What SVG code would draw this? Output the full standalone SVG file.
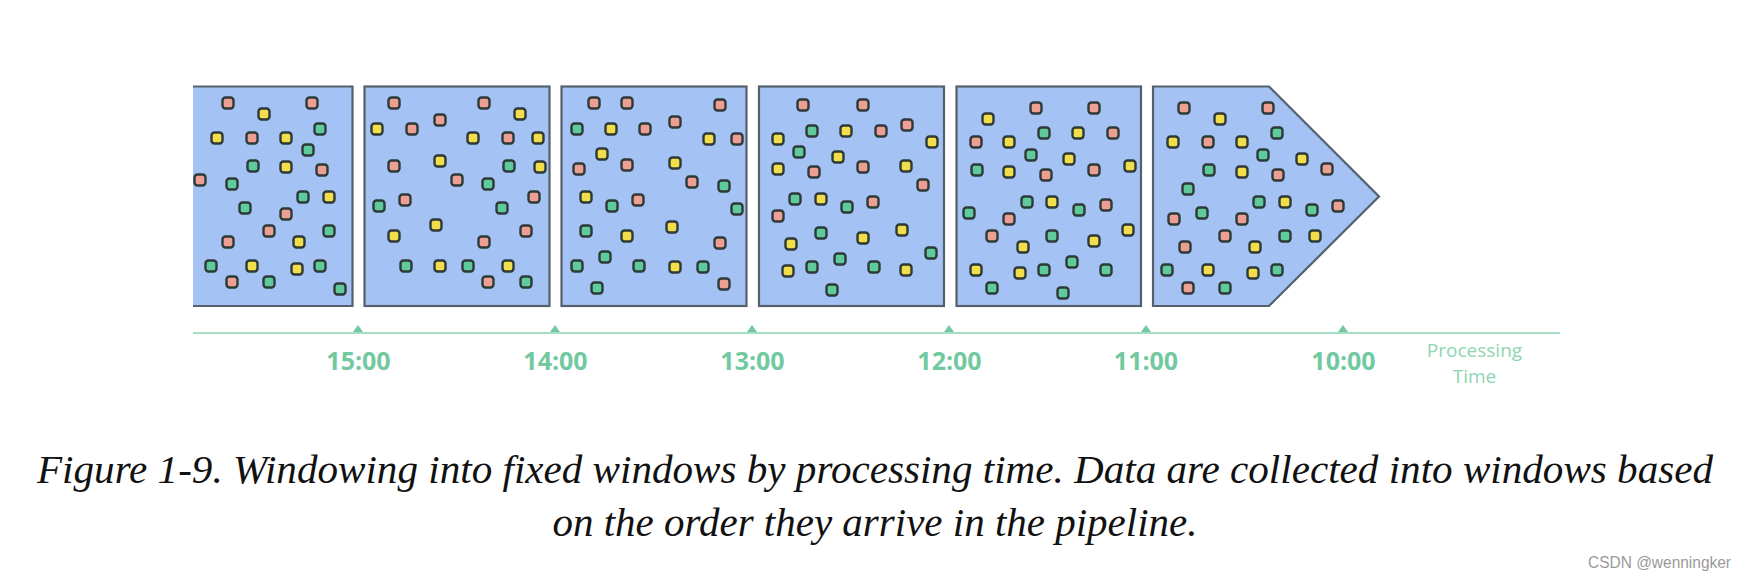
<svg xmlns="http://www.w3.org/2000/svg" xmlns:xlink="http://www.w3.org/1999/xlink" width="1744" height="579" viewBox="0 0 1744 579">
<style>
.win{fill:#a4c2f4;stroke:#56606c;stroke-width:2.2;stroke-linejoin:miter}
.d{stroke:#2e3a38;stroke-width:2.4}
.r{fill:#ee9f94}
.y{fill:#f2de4b}
.g{fill:#5fca9c}
.tick{fill:#72c99f}
.axis{stroke:#a6dfc4;stroke-width:2;fill:none}
.lbl{font-family:"Open Sans",sans-serif;font-weight:bold;font-size:25px;fill:#72c99f;text-anchor:middle}
.pt{font-family:"Open Sans",sans-serif;font-size:19px;fill:#8ed5b3;text-anchor:middle}
.cap{font-family:"Liberation Serif",serif;font-style:italic;font-size:40px;fill:#111;text-anchor:middle}
.wm{font-family:"Liberation Sans",sans-serif;font-size:16px;fill:#9a9a9a}
</style>
<defs>
<rect id="dot" x="-5.5" y="-5.5" width="11" height="11" rx="3"/>
</defs>
<rect width="1744" height="579" fill="#ffffff"/>

<g id="window1">
<path d="M193,86.5 H352.5 V306 H193 Z" fill="#a4c2f4"/>
<path d="M193,86.5 H352.5 V306 H193" fill="none" stroke="#56606c" stroke-width="2.2"/>
<g class="d">
<use xlink:href="#dot" x="228" y="103" class="r"/><use xlink:href="#dot" x="312" y="103" class="r"/><use xlink:href="#dot" x="264" y="114" class="y"/><use xlink:href="#dot" x="320" y="129" class="g"/><use xlink:href="#dot" x="217" y="138" class="y"/><use xlink:href="#dot" x="252" y="138" class="r"/><use xlink:href="#dot" x="286" y="138" class="y"/><use xlink:href="#dot" x="308" y="150" class="g"/><use xlink:href="#dot" x="253" y="166" class="g"/><use xlink:href="#dot" x="286" y="167" class="y"/><use xlink:href="#dot" x="322" y="170" class="r"/><use xlink:href="#dot" x="200" y="180" class="r"/><use xlink:href="#dot" x="232" y="184" class="g"/><use xlink:href="#dot" x="303" y="197" class="g"/><use xlink:href="#dot" x="329" y="197" class="y"/><use xlink:href="#dot" x="245" y="208" class="g"/><use xlink:href="#dot" x="286" y="214" class="r"/><use xlink:href="#dot" x="269" y="231" class="r"/><use xlink:href="#dot" x="329" y="231" class="g"/><use xlink:href="#dot" x="228" y="242" class="r"/><use xlink:href="#dot" x="299" y="242" class="y"/><use xlink:href="#dot" x="211" y="266" class="g"/><use xlink:href="#dot" x="252" y="266" class="y"/><use xlink:href="#dot" x="297" y="269" class="y"/><use xlink:href="#dot" x="320" y="266" class="g"/><use xlink:href="#dot" x="232" y="282" class="r"/><use xlink:href="#dot" x="269" y="282" class="g"/><use xlink:href="#dot" x="340" y="289" class="g"/>
</g>
</g>

<g id="window2">
<rect class="win" x="364.5" y="86.5" width="185" height="219.5"/>
<g class="d">
<use xlink:href="#dot" x="394" y="103" class="r"/><use xlink:href="#dot" x="484" y="103" class="r"/><use xlink:href="#dot" x="520" y="114" class="y"/><use xlink:href="#dot" x="440" y="120" class="r"/><use xlink:href="#dot" x="377" y="129" class="y"/><use xlink:href="#dot" x="412" y="129" class="r"/><use xlink:href="#dot" x="473" y="138" class="y"/><use xlink:href="#dot" x="508" y="138" class="r"/><use xlink:href="#dot" x="538" y="138" class="y"/><use xlink:href="#dot" x="394" y="166" class="r"/><use xlink:href="#dot" x="440" y="161" class="y"/><use xlink:href="#dot" x="509" y="166" class="g"/><use xlink:href="#dot" x="540" y="167" class="y"/><use xlink:href="#dot" x="457" y="180" class="r"/><use xlink:href="#dot" x="488" y="184" class="g"/><use xlink:href="#dot" x="405" y="200" class="r"/><use xlink:href="#dot" x="379" y="206" class="g"/><use xlink:href="#dot" x="534" y="197" class="r"/><use xlink:href="#dot" x="502" y="208" class="g"/><use xlink:href="#dot" x="436" y="225" class="y"/><use xlink:href="#dot" x="526" y="231" class="r"/><use xlink:href="#dot" x="394" y="236" class="y"/><use xlink:href="#dot" x="484" y="242" class="r"/><use xlink:href="#dot" x="406" y="266" class="g"/><use xlink:href="#dot" x="440" y="266" class="y"/><use xlink:href="#dot" x="468" y="266" class="g"/><use xlink:href="#dot" x="508" y="266" class="y"/><use xlink:href="#dot" x="488" y="282" class="r"/><use xlink:href="#dot" x="526" y="282" class="g"/>
</g>
</g>

<g id="window3">
<rect class="win" x="561.5" y="86.5" width="185" height="219.5"/>
<g class="d">
<use xlink:href="#dot" x="594" y="103" class="r"/><use xlink:href="#dot" x="627" y="103" class="r"/><use xlink:href="#dot" x="720" y="105" class="r"/><use xlink:href="#dot" x="577" y="129" class="g"/><use xlink:href="#dot" x="611" y="129" class="y"/><use xlink:href="#dot" x="645" y="129" class="r"/><use xlink:href="#dot" x="675" y="122" class="r"/><use xlink:href="#dot" x="709" y="139" class="y"/><use xlink:href="#dot" x="737" y="139" class="r"/><use xlink:href="#dot" x="602" y="154" class="y"/><use xlink:href="#dot" x="579" y="169" class="r"/><use xlink:href="#dot" x="627" y="165" class="r"/><use xlink:href="#dot" x="675" y="163" class="y"/><use xlink:href="#dot" x="692" y="182" class="r"/><use xlink:href="#dot" x="724" y="186" class="g"/><use xlink:href="#dot" x="586" y="197" class="y"/><use xlink:href="#dot" x="612" y="206" class="g"/><use xlink:href="#dot" x="638" y="200" class="r"/><use xlink:href="#dot" x="737" y="209" class="g"/><use xlink:href="#dot" x="586" y="231" class="g"/><use xlink:href="#dot" x="627" y="236" class="y"/><use xlink:href="#dot" x="672" y="227" class="y"/><use xlink:href="#dot" x="720" y="243" class="r"/><use xlink:href="#dot" x="605" y="257" class="g"/><use xlink:href="#dot" x="577" y="266" class="g"/><use xlink:href="#dot" x="639" y="266" class="g"/><use xlink:href="#dot" x="675" y="267" class="y"/><use xlink:href="#dot" x="703" y="267" class="g"/><use xlink:href="#dot" x="597" y="288" class="g"/><use xlink:href="#dot" x="724" y="284" class="r"/>
</g>
</g>

<g id="window4">
<rect class="win" x="759" y="86.5" width="185" height="219.5"/>
<g class="d">
<use xlink:href="#dot" x="803" y="105" class="r"/><use xlink:href="#dot" x="863" y="105" class="r"/><use xlink:href="#dot" x="812" y="131" class="g"/><use xlink:href="#dot" x="846" y="131" class="y"/><use xlink:href="#dot" x="881" y="131" class="r"/><use xlink:href="#dot" x="907" y="125" class="r"/><use xlink:href="#dot" x="778" y="139" class="y"/><use xlink:href="#dot" x="932" y="142" class="y"/><use xlink:href="#dot" x="799" y="152" class="g"/><use xlink:href="#dot" x="838" y="157" class="y"/><use xlink:href="#dot" x="778" y="169" class="y"/><use xlink:href="#dot" x="814" y="172" class="r"/><use xlink:href="#dot" x="863" y="167" class="r"/><use xlink:href="#dot" x="906" y="166" class="y"/><use xlink:href="#dot" x="923" y="185" class="r"/><use xlink:href="#dot" x="795" y="199" class="g"/><use xlink:href="#dot" x="821" y="199" class="y"/><use xlink:href="#dot" x="847" y="207" class="g"/><use xlink:href="#dot" x="873" y="202" class="r"/><use xlink:href="#dot" x="778" y="216" class="r"/><use xlink:href="#dot" x="821" y="233" class="g"/><use xlink:href="#dot" x="863" y="238" class="y"/><use xlink:href="#dot" x="902" y="230" class="y"/><use xlink:href="#dot" x="791" y="244" class="y"/><use xlink:href="#dot" x="931" y="253" class="g"/><use xlink:href="#dot" x="840" y="259" class="g"/><use xlink:href="#dot" x="788" y="271" class="y"/><use xlink:href="#dot" x="812" y="267" class="g"/><use xlink:href="#dot" x="874" y="267" class="g"/><use xlink:href="#dot" x="906" y="270" class="y"/><use xlink:href="#dot" x="832" y="290" class="g"/>
</g>
</g>

<g id="window5">
<rect class="win" x="956.5" y="86.5" width="184.5" height="219.5"/>
<g class="d">
<use xlink:href="#dot" x="1036" y="108" class="r"/><use xlink:href="#dot" x="1094" y="108" class="r"/><use xlink:href="#dot" x="988" y="119" class="y"/><use xlink:href="#dot" x="1044" y="133" class="g"/><use xlink:href="#dot" x="1078" y="133" class="y"/><use xlink:href="#dot" x="1113" y="133" class="r"/><use xlink:href="#dot" x="976" y="142" class="r"/><use xlink:href="#dot" x="1009" y="142" class="y"/><use xlink:href="#dot" x="1031" y="155" class="g"/><use xlink:href="#dot" x="1069" y="159" class="y"/><use xlink:href="#dot" x="1130" y="166" class="y"/><use xlink:href="#dot" x="977" y="170" class="g"/><use xlink:href="#dot" x="1009" y="172" class="y"/><use xlink:href="#dot" x="1046" y="175" class="r"/><use xlink:href="#dot" x="1094" y="170" class="r"/><use xlink:href="#dot" x="1027" y="202" class="g"/><use xlink:href="#dot" x="1052" y="202" class="y"/><use xlink:href="#dot" x="1079" y="210" class="g"/><use xlink:href="#dot" x="1106" y="205" class="r"/><use xlink:href="#dot" x="969" y="213" class="g"/><use xlink:href="#dot" x="1009" y="219" class="r"/><use xlink:href="#dot" x="1128" y="230" class="y"/><use xlink:href="#dot" x="992" y="236" class="r"/><use xlink:href="#dot" x="1052" y="236" class="g"/><use xlink:href="#dot" x="1023" y="247" class="y"/><use xlink:href="#dot" x="1094" y="241" class="y"/><use xlink:href="#dot" x="1072" y="262" class="g"/><use xlink:href="#dot" x="976" y="270" class="y"/><use xlink:href="#dot" x="1020" y="273" class="y"/><use xlink:href="#dot" x="1044" y="270" class="g"/><use xlink:href="#dot" x="1106" y="270" class="g"/><use xlink:href="#dot" x="992" y="288" class="g"/><use xlink:href="#dot" x="1063" y="293" class="g"/>
</g>
</g>

<g id="window6">
<path class="win" d="M1153,86.5 H1269 L1379,196.5 L1269,306 H1153 Z"/>
<g class="d">
<use xlink:href="#dot" x="1184" y="108" class="r"/><use xlink:href="#dot" x="1268" y="108" class="r"/><use xlink:href="#dot" x="1220" y="119" class="y"/><use xlink:href="#dot" x="1277" y="133" class="g"/><use xlink:href="#dot" x="1173" y="142" class="y"/><use xlink:href="#dot" x="1208" y="142" class="r"/><use xlink:href="#dot" x="1242" y="142" class="y"/><use xlink:href="#dot" x="1263" y="155" class="g"/><use xlink:href="#dot" x="1302" y="159" class="y"/><use xlink:href="#dot" x="1327" y="169" class="r"/><use xlink:href="#dot" x="1209" y="170" class="g"/><use xlink:href="#dot" x="1242" y="172" class="y"/><use xlink:href="#dot" x="1278" y="175" class="r"/><use xlink:href="#dot" x="1188" y="189" class="g"/><use xlink:href="#dot" x="1259" y="202" class="g"/><use xlink:href="#dot" x="1285" y="202" class="y"/><use xlink:href="#dot" x="1312" y="210" class="g"/><use xlink:href="#dot" x="1338" y="206" class="r"/><use xlink:href="#dot" x="1202" y="213" class="g"/><use xlink:href="#dot" x="1174" y="219" class="r"/><use xlink:href="#dot" x="1242" y="219" class="r"/><use xlink:href="#dot" x="1225" y="236" class="r"/><use xlink:href="#dot" x="1285" y="236" class="g"/><use xlink:href="#dot" x="1315" y="236" class="y"/><use xlink:href="#dot" x="1185" y="247" class="r"/><use xlink:href="#dot" x="1255" y="247" class="y"/><use xlink:href="#dot" x="1167" y="270" class="g"/><use xlink:href="#dot" x="1208" y="270" class="y"/><use xlink:href="#dot" x="1253" y="273" class="y"/><use xlink:href="#dot" x="1277" y="270" class="g"/><use xlink:href="#dot" x="1188" y="288" class="r"/><use xlink:href="#dot" x="1225" y="288" class="g"/>
</g>
</g>

<g id="axis">
<line class="axis" x1="193" y1="333" x2="1560" y2="333"/>
<path class="tick" d="M353,332 L358,325 L363,332 Z"/>
<path class="tick" d="M550,332 L555,325 L560,332 Z"/>
<path class="tick" d="M747,332 L752,325 L757,332 Z"/>
<path class="tick" d="M944,332 L949,325 L954,332 Z"/>
<path class="tick" d="M1141,332 L1146,325 L1151,332 Z"/>
<path class="tick" d="M1338,332 L1343,325 L1348,332 Z"/>
<text class="lbl" x="358.5" y="370">15:00</text>
<text class="lbl" x="555.5" y="370">14:00</text>
<text class="lbl" x="752.5" y="370">13:00</text>
<text class="lbl" x="949.5" y="370">12:00</text>
<text class="lbl" x="1146" y="370">11:00</text>
<text class="lbl" x="1343.5" y="370">10:00</text>
<text class="pt" x="1474.5" y="357">Processing</text>
<text class="pt" x="1474.5" y="383">Time</text>
</g>

<g id="caption">
<text class="cap" x="875" y="483" textLength="1676" lengthAdjust="spacingAndGlyphs">Figure 1-9. Windowing into fixed windows by processing time. Data are collected into windows based</text>
<text class="cap" x="875" y="536" textLength="645" lengthAdjust="spacingAndGlyphs">on the order they arrive in the pipeline.</text>
</g>
<text class="wm" x="1588" y="568" textLength="143" lengthAdjust="spacingAndGlyphs">CSDN @wenningker</text>
</svg>
